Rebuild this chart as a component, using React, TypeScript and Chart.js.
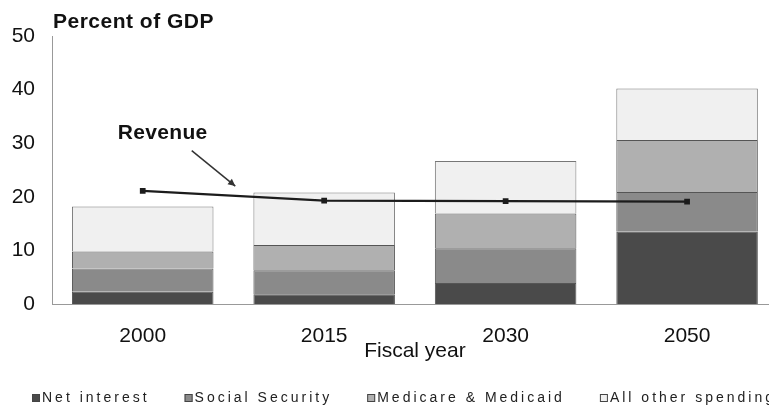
import React, { useEffect, useRef } from 'react';
import { Chart, registerables } from 'chart.js';

Chart.register(...registerables);

// ---- data ----
const years = ['2000', '2015', '2030', '2050'];
const netInterest = [2.3, 1.8, 3.9, 13.5];
const socialSecurity = [4.3, 4.5, 6.5, 7.4];
const medicareMedicaid = [3.2, 4.7, 6.5, 9.7];
const otherSpending = [8.4, 9.8, 9.8, 9.6];
const revenue = [21.1, 19.3, 19.2, 19.1];
const seriesLabels = ['Net interest', 'Social Security', 'Medicare & Medicaid', 'All other spending'];
const revenueLabel = 'Revenue';
const yTitle = 'Percent of GDP';
const xTitle = 'Fiscal year';
const yMin = 0;
const yMax = 50;
const yStep = 10;

// annotation anchor (in data units: category index, percent)
const revenueTextAt = [0.11, 31.8];
const arrowFrom = [0.27, 28.6];
const arrowTo = [0.51, 22.0];

const FONT = '"Liberation Sans", Arial, Helvetica, sans-serif';
const colors = ['#4a4a4a', '#8a8a8a', '#b0b0b0', '#f0f0f0'];

const annotationPlugin = {
  id: 'annotations',
  afterDatasetsDraw(chart: any) {
    const { ctx, chartArea, scales } = chart;
    const x = scales.x;
    const y = scales.y;
    ctx.save();
    // y title
    ctx.font = `bold 21px ${FONT}`;
    ctx.fillStyle = '#111';
    ctx.textAlign = 'left';
    ctx.textBaseline = 'alphabetic';
    (ctx as any).letterSpacing = '0.5px';
    ctx.fillText(yTitle, chartArea.left + 1, chartArea.top - 8);

    // revenue label
    (ctx as any).letterSpacing = '0.3px';
    ctx.textAlign = 'center';
    ctx.textBaseline = 'middle';
    ctx.fillText(revenueLabel, x.getPixelForValue(revenueTextAt[0]), y.getPixelForValue(revenueTextAt[1]));

    // arrow
    const x1 = x.getPixelForValue(arrowFrom[0]);
    const y1 = y.getPixelForValue(arrowFrom[1]);
    const x2 = x.getPixelForValue(arrowTo[0]);
    const y2 = y.getPixelForValue(arrowTo[1]);
    ctx.strokeStyle = '#333';
    ctx.lineWidth = 1.5;
    ctx.beginPath();
    ctx.moveTo(x1, y1);
    ctx.lineTo(x2, y2);
    ctx.stroke();
    const ang = Math.atan2(y2 - y1, x2 - x1);
    const hl = 8;
    ctx.fillStyle = '#333';
    ctx.beginPath();
    ctx.moveTo(x2, y2);
    ctx.lineTo(x2 - hl * Math.cos(ang - 0.45), y2 - hl * Math.sin(ang - 0.45));
    ctx.lineTo(x2 - hl * Math.cos(ang + 0.45), y2 - hl * Math.sin(ang + 0.45));
    ctx.closePath();
    ctx.fill();
    ctx.restore();
  },
  afterDraw(chart: any) {
    const { ctx } = chart;
    ctx.save();
    ctx.font = `14px ${FONT}`;
    (ctx as any).letterSpacing = '3px';
    ctx.textAlign = 'left';
    ctx.textBaseline = 'middle';
    let px = 32;
    const cy = 398;
    chart.data.datasets
      .filter((d: any) => d.type === 'bar')
      .forEach((d: any) => {
        ctx.fillStyle = d.backgroundColor;
        ctx.fillRect(px, cy - 4, 8, 8);
        ctx.strokeStyle = '#444';
        ctx.lineWidth = 1;
        ctx.strokeRect(px + 0.5, cy - 3.5, 7, 7);
        ctx.fillStyle = '#222';
        ctx.fillText(d.label, px + 10, cy);
        px += 10 + ctx.measureText(d.label).width + 35;
      });
    ctx.restore();
  },
};

export default function App() {
  const ref = useRef<HTMLCanvasElement>(null);
  useEffect(() => {
    const seriesData = [netInterest, socialSecurity, medicareMedicaid, otherSpending];
    const barSets = seriesData.map((data, i) => ({
      type: 'bar' as const,
      label: seriesLabels[i],
      data,
      backgroundColor: colors[i],
      borderColor: i === 3 ? '#777' : '#555',
      borderWidth: 1,
      borderSkipped: 'start',
      order: 1,
      barPercentage: 0.78,
      categoryPercentage: 1,
    }));
    const chart = new Chart(ref.current!, {
      type: 'bar',
      data: {
        labels: years,
        datasets: [
          {
            type: 'line' as const,
            label: revenueLabel,
            data: revenue,
            borderColor: '#1c1c1c',
            borderWidth: 2.2,
            pointStyle: 'rect',
            pointRadius: 2.5,
            pointBackgroundColor: '#1c1c1c',
            pointBorderColor: '#1c1c1c',
            tension: 0,
            order: 0,
          },
          ...barSets,
        ] as any,
      },
      options: {
        responsive: false,
        animation: false,
        layout: { padding: { left: 0, right: 5, top: 36, bottom: 42 } },
        plugins: {
          legend: { display: false },
          tooltip: { enabled: false },
          title: { display: false },
        },
        scales: {
          x: {
            stacked: true,
            grid: { display: false, drawTicks: false },
            border: { display: true, color: '#999', dash: [2, 2], width: 1 },
            ticks: { color: '#111', font: { family: FONT, size: 21 }, padding: 20 },
            title: {
              display: true,
              text: xTitle,
              color: '#111',
              font: { family: FONT, size: 21 },
              padding: { top: 0, bottom: 0 },
            },
            afterFit: (s: any) => {
              s.height = 60;
            },
          },
          y: {
            stacked: true,
            min: yMin,
            max: yMax,
            grid: { display: false, drawTicks: false },
            border: { display: true, color: '#999', dash: [2, 2], width: 1 },
            ticks: { stepSize: yStep, color: '#111', font: { family: FONT, size: 21 }, padding: 17 },
            afterFit: (s: any) => {
              s.width = 52;
            },
          },
        },
      },
      plugins: [annotationPlugin],
    });
    return () => chart.destroy();
  }, []);
  return (
    <div style={{ position: 'absolute', left: 0, top: 0, width: 769, height: 406, overflow: 'hidden', background: '#fff' }}>
      <canvas ref={ref} width={784} height={406} style={{ display: 'block' }} />
    </div>
  );
}
